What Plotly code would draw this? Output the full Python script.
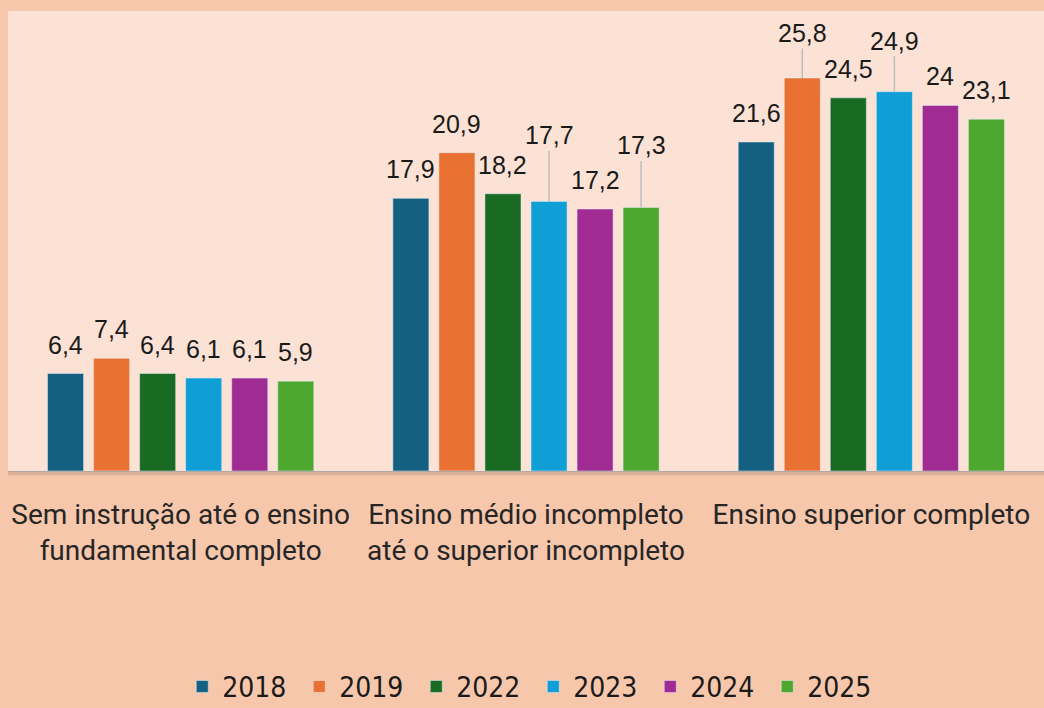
import plotly.graph_objects as go

# Taxa por nível de instrução (%)
categories = [
    "Sem instrução até o ensino<br>fundamental completo",
    "Ensino médio incompleto<br>até o superior incompleto",
    "Ensino superior completo",
]
years = ["2018", "2019", "2022", "2023", "2024", "2025"]
values = {
    "2018": [6.4, 17.9, 21.6],
    "2019": [7.4, 20.9, 25.8],
    "2022": [6.4, 18.2, 24.5],
    "2023": [6.1, 17.7, 24.9],
    "2024": [6.1, 17.2, 24.0],
    "2025": [5.9, 17.3, 23.1],
}
colors = {
    "2018": "#156082",
    "2019": "#E97132",
    "2022": "#196B24",
    "2023": "#0F9ED5",
    "2024": "#A02B93",
    "2025": "#4EA72E",
}

# labels that sit higher with a leader line: (year, category index) -> lift in px
leader_lift = {("2023", 1): 66, ("2025", 1): 62, ("2019", 2): 45, ("2023", 2): 51}

BARGAP = 0.2
LABEL_FONT = dict(family="Liberation Sans, Arial, sans-serif", size=25, color="#1a1a1a")


def fmt(v):
    s = f"{v:.1f}".replace(".", ",")
    return s[:-2] if s.endswith(",0") else s


fig = go.Figure()
for y in years:
    fig.add_trace(go.Bar(
        x=categories,
        y=values[y],
        name=y,
        marker=dict(color=colors[y]),
    ))

# data labels
slot = (1 - BARGAP) / len(years)
for i, y in enumerate(years):
    off = (i - (len(years) - 1) / 2) * slot
    for c, v in enumerate(values[y]):
        key = (y, c)
        if key in leader_lift:
            fig.add_annotation(
                x=c + off, y=v, xref="x", yref="y", text=fmt(v),
                showarrow=True, ax=0, ay=-leader_lift[key], arrowhead=0,
                arrowwidth=1.5, arrowcolor="#BDBDBD", standoff=0,
                font=LABEL_FONT,
            )
        else:
            fig.add_annotation(
                x=c + off, y=v, xref="x", yref="y", text=fmt(v),
                showarrow=False, yanchor="middle", yshift=29,
                font=LABEL_FONT,
            )

# soft shadow under the plot area
fig.add_shape(type="line", xref="paper", yref="paper", x0=0, x1=1, y0=-0.005, y1=-0.005,
              line=dict(color="rgba(90,70,60,0.18)", width=4), layer="below")

fig.update_layout(
    width=1044,
    height=708,
    margin=dict(l=8, r=0, t=11, b=237, autoexpand=False),
    paper_bgcolor="#F7C7AC",
    plot_bgcolor="#FBE2D5",
    barmode="group",
    bargap=BARGAP,
    bargroupgap=0.217,
    showlegend=True,
    legend=dict(
        orientation="h",
        x=0.507, xanchor="center",
        yref="container", y=0.03, yanchor="middle",
        font=dict(family="Liberation Sans Narrow, DejaVu Sans Condensed, Arial Narrow, sans-serif",
                  size=28, color="#1a1a1a"),
        itemwidth=30,
        entrywidth=72,
        bgcolor="rgba(0,0,0,0)",
    ),
    xaxis=dict(
        showline=True, linecolor="#B0A8A4", linewidth=1,
        ticks="", ticklabelstandoff=18,
        tickfont=dict(family="Roboto, sans-serif", size=28, color="#262626"),
    ),
    yaxis=dict(range=[0, 30.2], visible=False, showgrid=False),
)

fig.write_html("out.html", config={"displayModeBar": False},
               post_script="document.body.style.margin='0';")
